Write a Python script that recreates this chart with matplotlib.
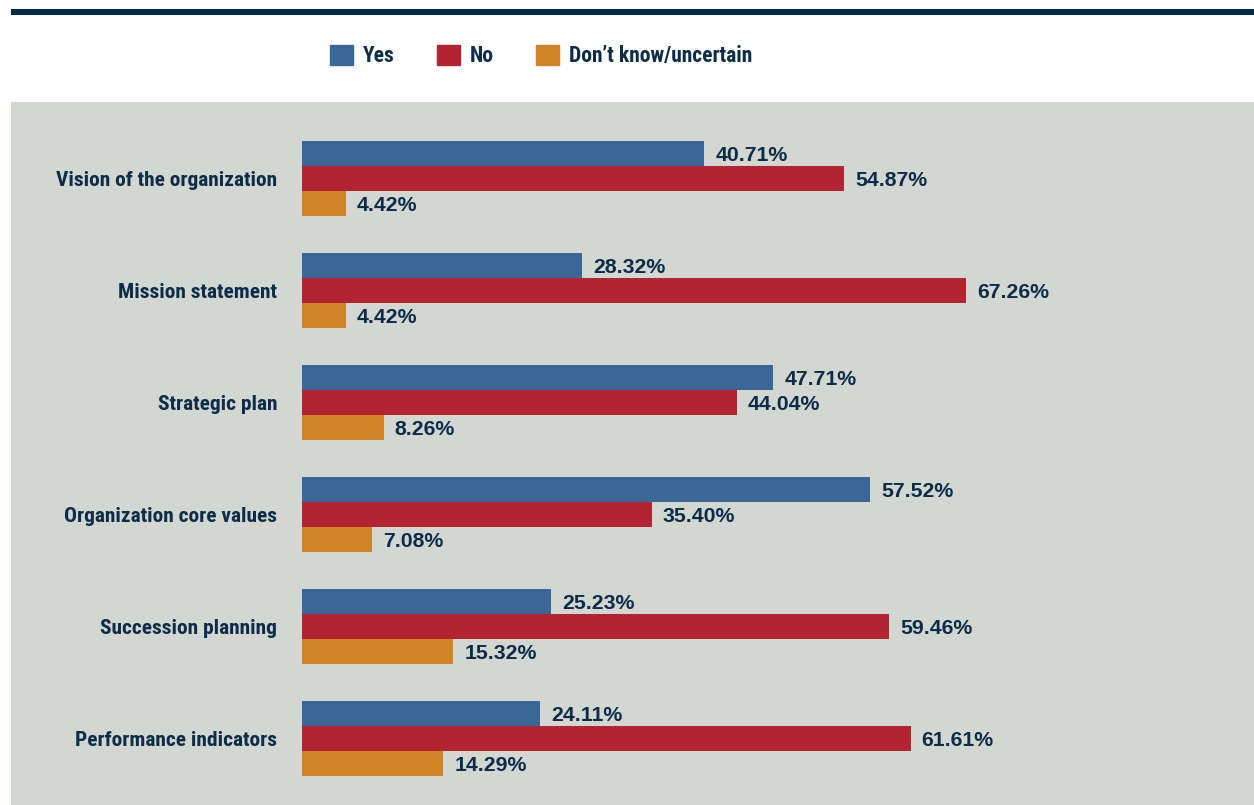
import matplotlib
matplotlib.use("Agg")
import matplotlib.pyplot as plt
import numpy as np
from matplotlib.patches import Patch, Rectangle

CATEGORIES = [
    "Vision of the organization",
    "Mission statement",
    "Strategic plan",
    "Organization core values",
    "Succession planning",
    "Performance indicators",
]
SERIES = ["Yes", "No", "Don\u2019t know/uncertain"]
YES = [40.71, 28.32, 47.71, 57.52, 25.23, 24.11]
NO = [54.87, 67.26, 44.04, 35.40, 59.46, 61.61]
DONT_KNOW = [4.42, 4.42, 8.26, 7.08, 15.32, 14.29]

COLORS = ["#3a6797", "#b22432", "#d08428"]
PANEL = "#d2d7d2"
TEXT = "#0c2c48"
NARROW = ["Roboto Condensed", "Liberation Sans Narrow", "DejaVu Sans"]

W, H = 1254, 805
fig = plt.figure(figsize=(W / 100, H / 100), dpi=100)
fig.patch.set_facecolor("white")

# top rule and grey panel
fig.add_artist(Rectangle((11 / W, 1 - 15 / H), 1 - 11 / W, 6 / H,
                         transform=fig.transFigure, color="#062b47", lw=0))
fig.add_artist(Rectangle((11 / W, 0), 1 - 11 / W, 1 - 102 / H,
                         transform=fig.transFigure, color=PANEL, lw=0, zorder=0))

ax = fig.add_axes([302 / W, 0, 1 - 302 / W, 1 - 102 / H])
ax.set_facecolor("none")

px_per_unit = 9.877
ax.set_xlim(0, (W - 302) / px_per_unit)
spacing = 112.0
ax.set_ylim((805 - 178) / spacing, (102 - 178) / spacing)

y = np.arange(len(CATEGORIES))
bh = 25 / spacing
for k, (vals, col, name) in enumerate(zip([YES, NO, DONT_KNOW], COLORS, SERIES)):
    pos = y + (k - 1) * bh
    bars = ax.barh(pos, vals, height=bh, color=col, label=name, lw=0)
    for b, v in zip(bars, vals):
        ax.annotate(f"{v:.2f}%", (b.get_width(), b.get_y() + b.get_height() / 2),
                    xytext=(8, -1.5), textcoords="offset points",
                    ha="left", va="center", fontsize=15.3, fontweight="bold",
                    color=TEXT, family="Liberation Sans")

ax.set_yticks(y)
ax.set_yticklabels(CATEGORIES, family=NARROW, fontstretch="condensed",
                   fontsize=15.4, fontweight="bold", color=TEXT)
ax.tick_params(axis="y", length=0, pad=18)
ax.set_xticks([])
for s in ax.spines.values():
    s.set_visible(False)

handles = [Patch(color=c, label=n) for c, n in zip(COLORS, SERIES)]
leg = fig.legend(handles=handles, loc="center left", bbox_to_anchor=(330 / W, 1 - 56 / H),
                 ncol=3, frameon=False, handlelength=1.07, handleheight=1.07,
                 handletextpad=0.47, columnspacing=1.95, borderpad=0, borderaxespad=0,
                 prop={"family": NARROW, "stretch": "condensed", "size": 15.5, "weight": "bold"})
for t in leg.get_texts():
    t.set_color(TEXT)

fig.savefig("out.png", dpi=100)
